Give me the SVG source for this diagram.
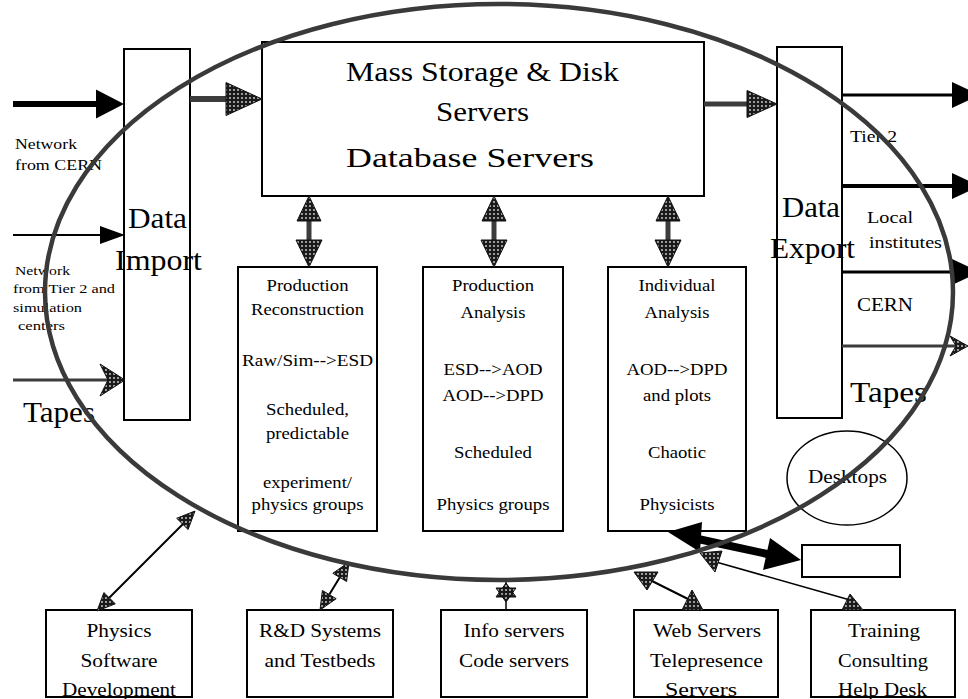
<svg xmlns="http://www.w3.org/2000/svg" width="968" height="699" viewBox="0 0 968 699">
<defs>
<pattern id="spk" width="4" height="4" patternUnits="userSpaceOnUse"><rect width="4" height="4" fill="#1a1a1a"/><circle cx="2" cy="2" r="0.9" fill="#d8d8d8"/></pattern>
<style>
text{font-family:"Liberation Serif","Times New Roman",serif;fill:#000}
.box{fill:#fff;stroke:#000;stroke-width:2}
.t26{font-size:28px}.t28{font-size:30px}.t17{font-size:17px}.t18{font-size:18px}.t15{font-size:15px}.t13{font-size:13px}
.gl{stroke:#3c3c3c;fill:none}
.bl{stroke:#000;fill:none}
.gh{fill:url(#spk);stroke:#111;stroke-width:1}
.bh{fill:#000}
</style>
</defs>
<rect width="968" height="699" fill="#fff"/>

<g id="data-import">
<rect class="box" x="124" y="49" width="66" height="371"/>
<text class="t28" x="128" y="228" textLength="59" lengthAdjust="spacingAndGlyphs">Data</text>
<text class="t28" x="115" y="270" textLength="87" lengthAdjust="spacingAndGlyphs">Import</text>
</g>

<g id="mass-storage">
<rect class="box" x="262" y="42" width="442" height="154"/>
<text class="t26" x="346" y="81" textLength="273" lengthAdjust="spacingAndGlyphs">Mass Storage &amp; Disk</text>
<text class="t26" x="436" y="121" textLength="93" lengthAdjust="spacingAndGlyphs">Servers</text>
<text class="t26" x="346" y="167" textLength="248" lengthAdjust="spacingAndGlyphs">Database Servers</text>
</g>

<g id="data-export">
<rect class="box" x="777" y="47" width="65" height="371"/>
<text class="t28" x="782" y="217" textLength="58" lengthAdjust="spacingAndGlyphs">Data</text>
<text class="t28" x="770" y="258" textLength="85" lengthAdjust="spacingAndGlyphs">Export</text>
</g>

<g id="input-labels">
<text class="t15" x="15" y="149" textLength="62" lengthAdjust="spacingAndGlyphs">Network</text>
<text class="t15" x="15" y="170" textLength="87" lengthAdjust="spacingAndGlyphs">from CERN</text>
<text class="t13" x="15" y="275" textLength="55" lengthAdjust="spacingAndGlyphs">Network</text>
<text class="t13" x="13" y="293" textLength="102" lengthAdjust="spacingAndGlyphs">from Tier 2 and</text>
<text class="t13" x="13" y="312" textLength="69" lengthAdjust="spacingAndGlyphs">simulation</text>
<text class="t13" x="18" y="330" textLength="47" lengthAdjust="spacingAndGlyphs">centers</text>
<text class="t28" x="23" y="422" textLength="72" lengthAdjust="spacingAndGlyphs">Tapes</text>
</g>

<g id="output-labels">
<text class="t17" x="850" y="142" textLength="47" lengthAdjust="spacingAndGlyphs">Tier 2</text>
<text class="t17" x="867" y="223" textLength="46" lengthAdjust="spacingAndGlyphs">Local</text>
<text class="t17" x="869" y="248" textLength="73" lengthAdjust="spacingAndGlyphs">institutes</text>
<text class="t18" x="857" y="311" textLength="56" lengthAdjust="spacingAndGlyphs">CERN</text>
<text class="t28" x="850" y="402" textLength="77" lengthAdjust="spacingAndGlyphs">Tapes</text>
</g>

<g id="production-reconstruction">
<rect class="box" x="238" y="267" width="139" height="264"/>
<text class="t17" x="266.5" y="291" textLength="82" lengthAdjust="spacingAndGlyphs">Production</text>
<text class="t17" x="251" y="315" textLength="113" lengthAdjust="spacingAndGlyphs">Reconstruction</text>
<text class="t17" x="242" y="366" textLength="131" lengthAdjust="spacingAndGlyphs">Raw/Sim--&gt;ESD</text>
<text class="t17" x="266" y="415" textLength="83" lengthAdjust="spacingAndGlyphs">Scheduled,</text>
<text class="t17" x="266" y="439" textLength="83" lengthAdjust="spacingAndGlyphs">predictable</text>
<text class="t17" x="263" y="488" textLength="89" lengthAdjust="spacingAndGlyphs">experiment/</text>
<text class="t17" x="251.5" y="510" textLength="112" lengthAdjust="spacingAndGlyphs">physics groups</text>
</g>

<g id="production-analysis">
<rect class="box" x="423" y="267" width="140" height="264"/>
<text class="t17" x="452" y="291" textLength="82" lengthAdjust="spacingAndGlyphs">Production</text>
<text class="t17" x="460.5" y="318" textLength="65" lengthAdjust="spacingAndGlyphs">Analysis</text>
<text class="t17" x="443.5" y="375" textLength="99" lengthAdjust="spacingAndGlyphs">ESD--&gt;AOD</text>
<text class="t17" x="442.5" y="401" textLength="101" lengthAdjust="spacingAndGlyphs">AOD--&gt;DPD</text>
<text class="t17" x="454" y="458" textLength="78" lengthAdjust="spacingAndGlyphs">Scheduled</text>
<text class="t17" x="436.5" y="510" textLength="113" lengthAdjust="spacingAndGlyphs">Physics groups</text>
</g>

<g id="individual-analysis">
<rect class="box" x="608" y="267" width="138" height="264"/>
<text class="t17" x="638.5" y="291" textLength="77" lengthAdjust="spacingAndGlyphs">Individual</text>
<text class="t17" x="644.5" y="318" textLength="65" lengthAdjust="spacingAndGlyphs">Analysis</text>
<text class="t17" x="626.5" y="375" textLength="101" lengthAdjust="spacingAndGlyphs">AOD--&gt;DPD</text>
<text class="t17" x="643" y="401" textLength="68" lengthAdjust="spacingAndGlyphs">and plots</text>
<text class="t17" x="648" y="458" textLength="58" lengthAdjust="spacingAndGlyphs">Chaotic</text>
<text class="t17" x="639.5" y="510" textLength="75" lengthAdjust="spacingAndGlyphs">Physicists</text>
</g>

<g id="desktops">
<ellipse cx="847" cy="478" rx="60" ry="47" fill="none" stroke="#000" stroke-width="1.5"/>
<text class="t18" x="808" y="483" textLength="79" lengthAdjust="spacingAndGlyphs">Desktops</text>
</g>

<g id="blank-box">
<rect class="box" x="802" y="545" width="98" height="32"/>
</g>

<g id="physics-software">
<rect class="box" x="46" y="610" width="146" height="87"/>
<text class="t18" x="86.5" y="637" textLength="65" lengthAdjust="spacingAndGlyphs">Physics</text>
<text class="t18" x="80.5" y="667" textLength="77" lengthAdjust="spacingAndGlyphs">Software</text>
<text class="t18" x="62" y="696" textLength="114" lengthAdjust="spacingAndGlyphs">Development</text>
</g>

<g id="rd-systems">
<rect class="box" x="247" y="610" width="146" height="87"/>
<text class="t18" x="259" y="637" textLength="122" lengthAdjust="spacingAndGlyphs">R&amp;D Systems</text>
<text class="t18" x="264.5" y="667" textLength="111" lengthAdjust="spacingAndGlyphs">and Testbeds</text>
</g>

<g id="info-servers">
<rect class="box" x="441" y="610" width="146" height="87"/>
<text class="t18" x="463.5" y="637" textLength="101" lengthAdjust="spacingAndGlyphs">Info servers</text>
<text class="t18" x="459" y="667" textLength="110" lengthAdjust="spacingAndGlyphs">Code servers</text>
</g>

<g id="web-servers">
<rect class="box" x="634" y="610" width="144" height="87"/>
<text class="t18" x="653" y="637" textLength="108" lengthAdjust="spacingAndGlyphs">Web Servers</text>
<text class="t18" x="650" y="667" textLength="113" lengthAdjust="spacingAndGlyphs">Telepresence</text>
<text class="t18" x="665" y="696" textLength="72" lengthAdjust="spacingAndGlyphs">Servers</text>
</g>

<g id="training">
<rect class="box" x="811" y="610" width="144" height="87"/>
<text class="t18" x="848" y="637" textLength="72" lengthAdjust="spacingAndGlyphs">Training</text>
<text class="t18" x="838" y="667" textLength="90" lengthAdjust="spacingAndGlyphs">Consulting</text>
<text class="t18" x="838" y="696" textLength="89" lengthAdjust="spacingAndGlyphs">Help Desk</text>
</g>

<g id="connectors">
<line class="bl" x1="13" y1="104" x2="98" y2="104" stroke-width="6"/>
<polygon class="bh" points="96,89.5 124,104 96,118.5"/>
<line class="bl" x1="13" y1="235" x2="102" y2="235" stroke-width="2"/>
<polygon class="bh" points="100,226 125,235 100,244"/>
<line class="gl" x1="13" y1="380" x2="108" y2="380" stroke-width="3"/>
<polygon class="gh" points="125,380 100,364 108,380 100,396"/>
<line class="gl" x1="190" y1="99" x2="230" y2="99" stroke-width="6"/>
<polygon class="gh" points="226,82.5 262,99 226,115.5"/>
<line class="gl" x1="704" y1="104" x2="750" y2="104" stroke-width="5"/>
<polygon class="gh" points="747,90.5 777,104 747,117.5"/>
<line class="bl" x1="842" y1="95" x2="955" y2="95" stroke-width="3"/>
<polygon class="bh" points="952,82 980,95 952,108"/>
<line class="bl" x1="842" y1="186" x2="955" y2="186" stroke-width="4"/>
<polygon class="bh" points="952,173 980,186 952,199"/>
<line class="bl" x1="842" y1="272" x2="955" y2="272" stroke-width="3"/>
<polygon class="bh" points="952,259 980,272 952,285"/>
<line class="gl" x1="842" y1="346" x2="956" y2="346" stroke-width="3"/>
<polygon class="gh" points="968,346 950,336 956,346 950,356"/>
<line class="gl" x1="309" y1="218" x2="309" y2="242" stroke-width="5"/>
<polygon class="gh" points="297,221 309,196 321,221"/>
<polygon class="gh" points="296,240 309,267 322,240"/>
<line class="gl" x1="494" y1="218" x2="494" y2="242" stroke-width="5"/>
<polygon class="gh" points="482,221 494,196 506,221"/>
<polygon class="gh" points="481,240 494,267 507,240"/>
<line class="gl" x1="668" y1="218" x2="668" y2="242" stroke-width="5"/>
<polygon class="gh" points="656,221 668,196 680,221"/>
<polygon class="gh" points="655,240 668,267 681,240"/>
<line class="bl" x1="109" y1="598" x2="183" y2="524" stroke-width="2"/>
<polygon class="gh" points="97,611 115.3,603.8 103.9,592.6"/>
<polygon class="gh" points="195,511 188.1,529.5 176.7,518.3"/>
<line class="bl" x1="339.7" y1="577.4" x2="329.3" y2="594.6" stroke-width="2"/>
<polygon class="gh" points="320,610 336.2,598.7 322.4,590.5"/>
<polygon class="gh" points="349,562 346.6,581.5 332.8,573.3"/>
<line class="bl" x1="506" y1="580" x2="506" y2="610" stroke-width="1.5"/>
<polygon class="gh" points="496,597 506,583 516,597"/>
<polygon class="gh" points="496,588 506,602 516,588"/>
<line class="bl" x1="650" y1="580" x2="690" y2="600" stroke-width="2"/>
<polygon class="gh" points="634,572 658,572 647,590"/>
<polygon class="gh" points="692,590 682,610 703,610"/>
<line class="bl" x1="716" y1="562" x2="850" y2="600" stroke-width="1.5"/>
<polygon class="gh" points="700,553 722,551 715,572"/>
<polygon class="gh" points="850,594 842,610 863,610"/>
<line class="bl" x1="698" y1="539" x2="772" y2="555" stroke-width="8"/>
<polygon class="bh" points="668,532 702,522 700,552"/>
<polygon class="bh" points="770,538 801,560 763,570"/>
</g>

<g id="site-boundary">
<ellipse cx="499" cy="292" rx="454" ry="288" fill="none" stroke="#3a3a3a" stroke-width="4.5"/>
</g>
</svg>
